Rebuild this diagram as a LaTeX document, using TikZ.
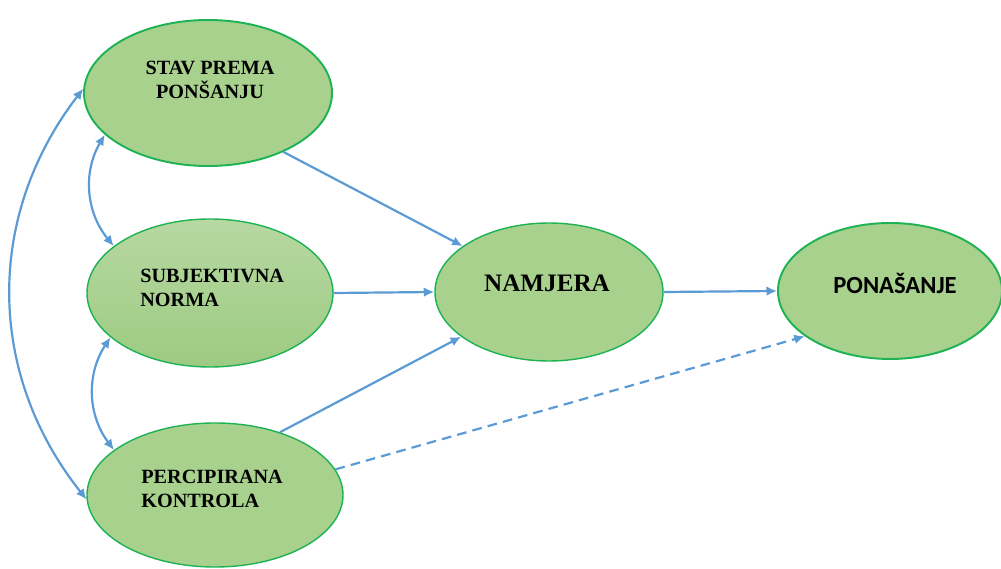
\documentclass[tikz,border=0pt]{standalone}
\usepackage{fontspec}
\setmainfont{Liberation Serif}
\newfontfamily\ponfont{Carlito}
\usetikzlibrary{arrows.meta}
\usetikzlibrary{shapes.geometric}

\definecolor{elfill}{HTML}{A9D18E}
\definecolor{eltop}{HTML}{B7D8A2}
\definecolor{elbot}{HTML}{9DCB82}
\definecolor{elline}{HTML}{1DB254}
\definecolor{arrblue}{HTML}{5B9BD5}

\tikzset{
  factor/.style={ellipse, draw=elline, fill=elfill, line width=0.8pt},
  label text/.style={font=\bfseries\fontsize{11.5}{14}\selectfont, inner sep=0},
  arr/.style={arrblue, line width=1.25pt, -{Latex[length=6pt,width=5.5pt]}},
  dblarr/.style={arrblue, line width=1.25pt, {Latex[length=6pt,width=5.5pt]}-{Latex[length=6pt,width=5.5pt]}}
}

\begin{document}
\begin{tikzpicture}

\useasboundingbox (0,0) rectangle (20.02,-11.38);

% ellipses
\node[factor, line width=1.1pt, minimum width=4.96cm, minimum height=2.92cm] (stav) at (4.16,-1.86) {};
\node[factor, top color=eltop, bottom color=elbot, minimum width=4.92cm, minimum height=2.96cm] (subj) at (4.2,-5.86) {};
\node[factor, minimum width=5.12cm, minimum height=2.88cm] (perc) at (4.3,-9.9) {};
\node[factor, minimum width=4.56cm, minimum height=2.76cm] (namjera) at (10.98,-5.84) {};
\node[factor, line width=1.1pt, minimum width=4.48cm, minimum height=2.72cm] (pon) at (17.8,-5.82) {};

% texts
\node[label text, align=center] (stavtxt) at (4.2,-1.6) {STAV PREMA\\PONŠANJU};
\node[label text, align=left, anchor=west] (subjtxt) at (2.8,-5.76) {SUBJEKTIVNA\\NORMA};
\node[label text, align=left, anchor=west] (perctxt) at (2.82,-9.78) {PERCIPIRANA\\KONTROLA};
\node[font=\bfseries\fontsize{14.3}{16}\selectfont, inner sep=0] (namtxt) at (10.94,-5.66) {NAMJERA};
\node[font=\ponfont\bfseries\fontsize{14}{16}\selectfont, inner sep=0] (pontxt) at (17.9,-5.66) {PONAŠANJE};

% arrows
\draw[arr] (stav.-38) -- (namjera.152);
\draw[arr] (subj.east) -- (namjera.west);
\draw[arr] (perc.44) -- (namjera.207);
\draw[arr] (namjera.east) -- (pon.west);
\draw[arr, dash pattern=on 5.5pt off 3.5pt] (perc.12) -- (pon.208);

% correlations
\draw[dblarr] (stav.202) to[bend right=35] (subj.154);
\draw[dblarr] (subj.204) to[bend right=35] (perc.156);
\draw[dblarr] (stav.178) to[bend right=38] (perc.182);

\end{tikzpicture}
\end{document}
